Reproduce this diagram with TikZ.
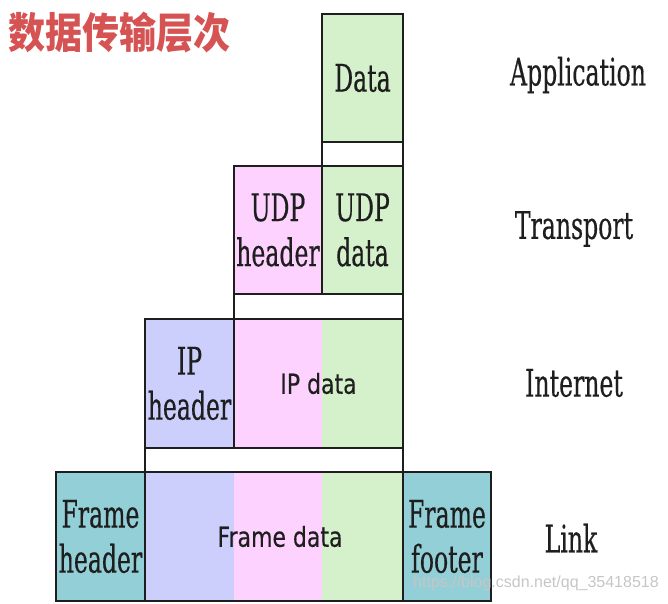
\documentclass[tikz,border=0pt]{standalone}
\usepackage{fontspec}
\usepackage{xcolor}
\usetikzlibrary{positioning}
\newfontfamily\boxserif[FakeStretch=0.62, FakeBold=0.4]{DejaVu Serif}
\newfontfamily\boxsans[FakeStretch=0.8, FakeBold=0.3]{DejaVu Sans}
\newfontfamily\titlefont{Noto Sans CJK SC}
\newfontfamily\markfont{Liberation Sans}
\definecolor{segGreen} {HTML}{D5F1CC}
\definecolor{segPink}  {HTML}{FED2FE}
\definecolor{segBlue}  {HTML}{CCCFFC}
\definecolor{segTeal}  {HTML}{92CFD6}
\definecolor{segLine}  {HTML}{1E1E1E}
\definecolor{titleRed} {HTML}{D65353}

\begin{document}
\begin{tikzpicture}[x=1pt, y=-1pt,
    seg/.style={draw=segLine, line width=1.6pt, inner sep=0pt, align=center,
                font=\boxserif\fontsize{38}{45}\selectfont, text=segLine},
    gapbox/.style={draw=segLine, line width=1.6pt, fill=white, inner sep=0pt,
                   minimum height=24pt},
    layerlbl/.style={font=\boxserif\fontsize{38}{45}\selectfont, text=segLine},
  ]
  \useasboundingbox (0,0) rectangle (668,603);
  \node[font=\titlefont\bfseries\fontsize{37}{37}\selectfont, text=titleRed,
        anchor=west, inner sep=0pt] (title) at (8,33) {\scalebox{1}[1.14]{数据传输层次}};

  % white steps between the layers
  \node[gapbox, minimum width=81pt]  (gapA) at (362.5,154) {};
  \node[gapbox, minimum width=169pt] (gapB) at (318.5,306.5) {};
  \node[gapbox, minimum width=258pt] (gapC) at (274,460) {};

  % Application
  \node[seg, fill=segGreen, minimum width=81pt, minimum height=128pt] (data) at (362.5,78) {Data};
  % Transport
  \node[seg, fill=segPink,  minimum width=88pt, minimum height=128pt] (udph) at (278,230) {UDP\\header};
  \node[seg, fill=segGreen, minimum width=81pt, minimum height=128pt] (udpd) at (362.5,230) {UDP\\data};
  % Internet
  \fill[segPink]  (234,319) rectangle (322,448);
  \fill[segGreen] (322,319) rectangle (403,448);
  \node[seg, fill=segBlue,  minimum width=89pt,  minimum height=129pt] (iph) at (189.5,383.5) {IP\\header};
  \node[seg, minimum width=169pt, minimum height=129pt,
        font=\boxsans\fontsize{27.5}{33}\selectfont] (ipd) at (318.5,383.5) {IP data};
  % Link
  \fill[segBlue]  (145,472) rectangle (234,601);
  \fill[segPink]  (234,472) rectangle (322,601);
  \fill[segGreen] (322,472) rectangle (403,601);
  \node[seg, fill=segTeal, minimum width=89pt,  minimum height=129pt] (frh) at (100.5,536.5) {Frame\\header};
  \node[seg, minimum width=258pt, minimum height=129pt,
        font=\boxsans\fontsize{27.5}{33}\selectfont] (frd) at (274,536.5) {\hspace{12pt}Frame data};
  \node[seg, fill=segTeal, minimum width=88pt,  minimum height=129pt] (frf) at (447,536.5) {Frame\\footer};

  \node[layerlbl] (lApp)  at (578,75)  {Application};
  \node[layerlbl] (lTrn)  at (574,229) {Transport};
  \node[layerlbl] (lInt)  at (574,383) {Internet};
  \node[layerlbl] (lLnk)  at (571,538) {Link};

  \node[font=\markfont\fontsize{16}{16}\selectfont, text=gray!45, anchor=west,
        inner sep=0pt] (mark) at (413,583) {https://blog.csdn.net/qq\_35418518};
\end{tikzpicture}
\end{document}
